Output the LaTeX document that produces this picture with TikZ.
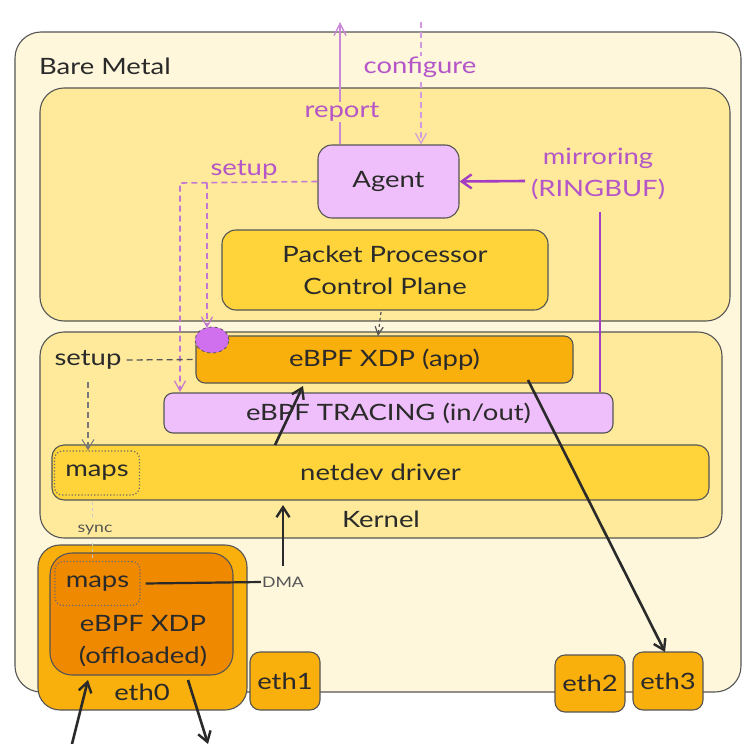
\documentclass[tikz,border=0pt]{standalone}
\usepackage{fontspec}
\setmainfont[FakeStretch=1.22]{Lato}
\usetikzlibrary{arrows.meta,shapes.geometric}
\definecolor{outerc}{HTML}{FEF7DC}
\definecolor{layerc}{HTML}{FEEA9A}
\definecolor{midc}{HTML}{FED43A}
\definecolor{appc}{HTML}{F9AF0C}
\definecolor{offc}{HTML}{EF8A00}
\definecolor{lilac}{HTML}{EEBFFA}
\definecolor{purp}{HTML}{B455C8}
\definecolor{purpd}{HTML}{A53CC4}
\definecolor{dot}{HTML}{D070EE}
\definecolor{edge}{HTML}{555555}
\definecolor{ink}{HTML}{2A2A2A}
\newcommand{\bigf}{\fontsize{22.5}{32}\selectfont}
\newcommand{\smallf}{\fontsize{14.5}{17}\selectfont}
\tikzset{
  box/.style={draw=edge, line width=1.1pt, rounded corners=14pt, inner sep=0pt, text=ink, font=\bigf},
  lbl/.style={font=\bigf, text=ink, inner sep=1pt},
  plbl/.style={font=\bigf, text=purp, inner sep=1pt},
  small/.style={font=\smallf, text=ink!80, inner sep=1pt},
  mapbox/.style={draw=ink!70, dotted, line width=1.2pt, rounded corners=8pt, minimum width=85pt, minimum height=44pt, inner sep=0pt, font=\bigf, text=ink},
  blk/.style={draw=ink, line width=2.6pt, -{Straight Barb[length=10pt,width=13pt,line width=2.4pt]}},
  pdash/.style={draw=purp!80, dashed, line width=1.6pt, dash pattern=on 6pt off 4pt},
  ptip/.style={-{Straight Barb[length=10pt,width=11pt,line width=1.2pt]}},
}
\begin{document}
\begin{tikzpicture}[x=1pt,y=-1pt]
\useasboundingbox (0,0) rectangle (743,744);
% outer
\node[box, fill=outerc, minimum width=726pt, minimum height=660pt, rounded corners=26pt] (bm) at (378,362) {};
\node[lbl, anchor=west] (bmt) at (38,66) {Bare Metal};
% user space layer
\node[box, fill=layerc, minimum width=690pt, minimum height=233pt, rounded corners=24pt] (us) at (385,204.5) {};
% kernel layer
\node[box, fill=layerc, minimum width=682pt, minimum height=206pt, rounded corners=24pt] (kern) at (381,435) {};
\node[lbl] (kt) at (381,519) {Kernel};
% Agent
\node[box, fill=lilac, minimum width=141pt, minimum height=73pt] (agent) at (388.5,181.5) {Agent};
% PPCP
\node[box, fill=midc, minimum width=326pt, minimum height=80pt, align=center] (ppcp) at (385,270) {Packet Processor\\Control Plane};
% XDP app
\node[box, fill=appc, minimum width=377pt, minimum height=47pt, rounded corners=9pt] (xdp) at (384.5,359.5) {eBPF XDP (app)};
% Tracing
\node[box, fill=lilac, minimum width=449pt, minimum height=40pt, rounded corners=9pt] (trace) at (388.5,413) {eBPF TRACING (in/out)};
% netdev
\node[box, fill=midc, minimum width=657pt, minimum height=55pt, rounded corners=12pt] (netdev) at (380.5,472.5) {netdev driver};
\node[mapbox] (maps1) at (97,473) {maps};
% eth0
\node[box, fill=appc, minimum width=209pt, minimum height=165pt, rounded corners=22pt] (eth0) at (142.5,627.5) {};
\node[lbl] (eth0t) at (142,692) {eth0};
\node[box, fill=offc, minimum width=183pt, minimum height=122pt, rounded corners=22pt] (off) at (141.5,614) {};
\node[lbl, align=center] (offt) at (143,641) {eBPF XDP\\(offloaded)};
\node[mapbox] (maps2) at (97.5,583.5) {maps};
% eths
\node[box, fill=appc, minimum width=70pt, minimum height=58pt, rounded corners=10pt] (eth1) at (285,681) {eth1};
\node[box, fill=appc, minimum width=70pt, minimum height=57pt, rounded corners=10pt] (eth2) at (590,683.5) {eth2};
\node[box, fill=appc, minimum width=70pt, minimum height=58pt, rounded corners=10pt] (eth3) at (668,681) {eth3};
% purple ellipse
\node[ellipse, draw=edge, dashed, fill=dot, minimum width=34pt, minimum height=26pt, inner sep=0pt, line width=0.8pt] (pc) at (212,340) {};
% coordinates
\coordinate (topout) at (340,22);
\coordinate (topin) at (421,22);
\coordinate (inlo) at (72,744);
\coordinate (outlo) at (208,744);
\coordinate (mirr) at (600,212);
% report / configure
\draw[draw=purp!70, line width=1.6pt, -{Straight Barb[length=12pt,width=12pt,line width=1.4pt]}] (agent.north -| topout) -- (topout);
\node[plbl, fill=layerc] (rep) at (342,112) {report};
\draw[pdash, draw=purp!60, ptip] (topin) -- (agent.north -| topin);
\node[plbl, fill=outerc] (conf) at (420,67) {configure};
% mirroring
\node[plbl, align=center] (mir) at (598,174) {mirroring\\(RINGBUF)};
\draw[draw=purpd, line width=2.6pt, -{Straight Barb[length=10pt,width=14pt,line width=2.4pt]}] (525,181) -- (agent.east);
\draw[draw=purpd, line width=2.4pt] (mirr) -- (mirr |- trace.north);
% setup purple
\node[plbl] (setp) at (244,170) {setup};
\draw[pdash, ptip] (agent.west) -- (180,183) -- (180,392);
\draw[pdash, ptip] (207,183) -- (207,328);
% PPCP to XDP
\draw[draw=edge, dashed, line width=1.2pt, -{Straight Barb[length=8pt,width=8pt]}] (381,312) -- (378,336);
% setup black
\node[lbl] (setk) at (88,360) {setup};
\draw[draw=edge, dashed, line width=1.3pt, dash pattern=on 6pt off 4pt] (setk.east) ++(4,0) -- (xdp.west);
\draw[draw=edge!80, dashed, line width=1.3pt, dash pattern=on 6pt off 4pt, -{Straight Barb[length=10pt,width=12pt,line width=1pt]}] (88,382) -- (maps1.north -| 88,0);
% sync
\node[small] (sync) at (95,530) {sync};
\draw[draw=ink!25, dashed, line width=0.8pt] (92,502) -- (92,518);
\draw[draw=ink!25, dashed, line width=0.8pt] (92,543) -- (92,558);
% black arrows
\draw[blk] (275,445) -- (303,386);
\draw[blk] (528,380) -- (665,652);
\draw[blk] (283,566) -- (283,505);
\node[small] (dma) at (283,582) {DMA};
\draw[draw=ink, line width=2.2pt] (maps2.east) ++(5,0) -- (dma.west);
\draw[blk] (inlo) -- (88,680);
\draw[blk] (188,680) -- (outlo);
\end{tikzpicture}
\end{document}
